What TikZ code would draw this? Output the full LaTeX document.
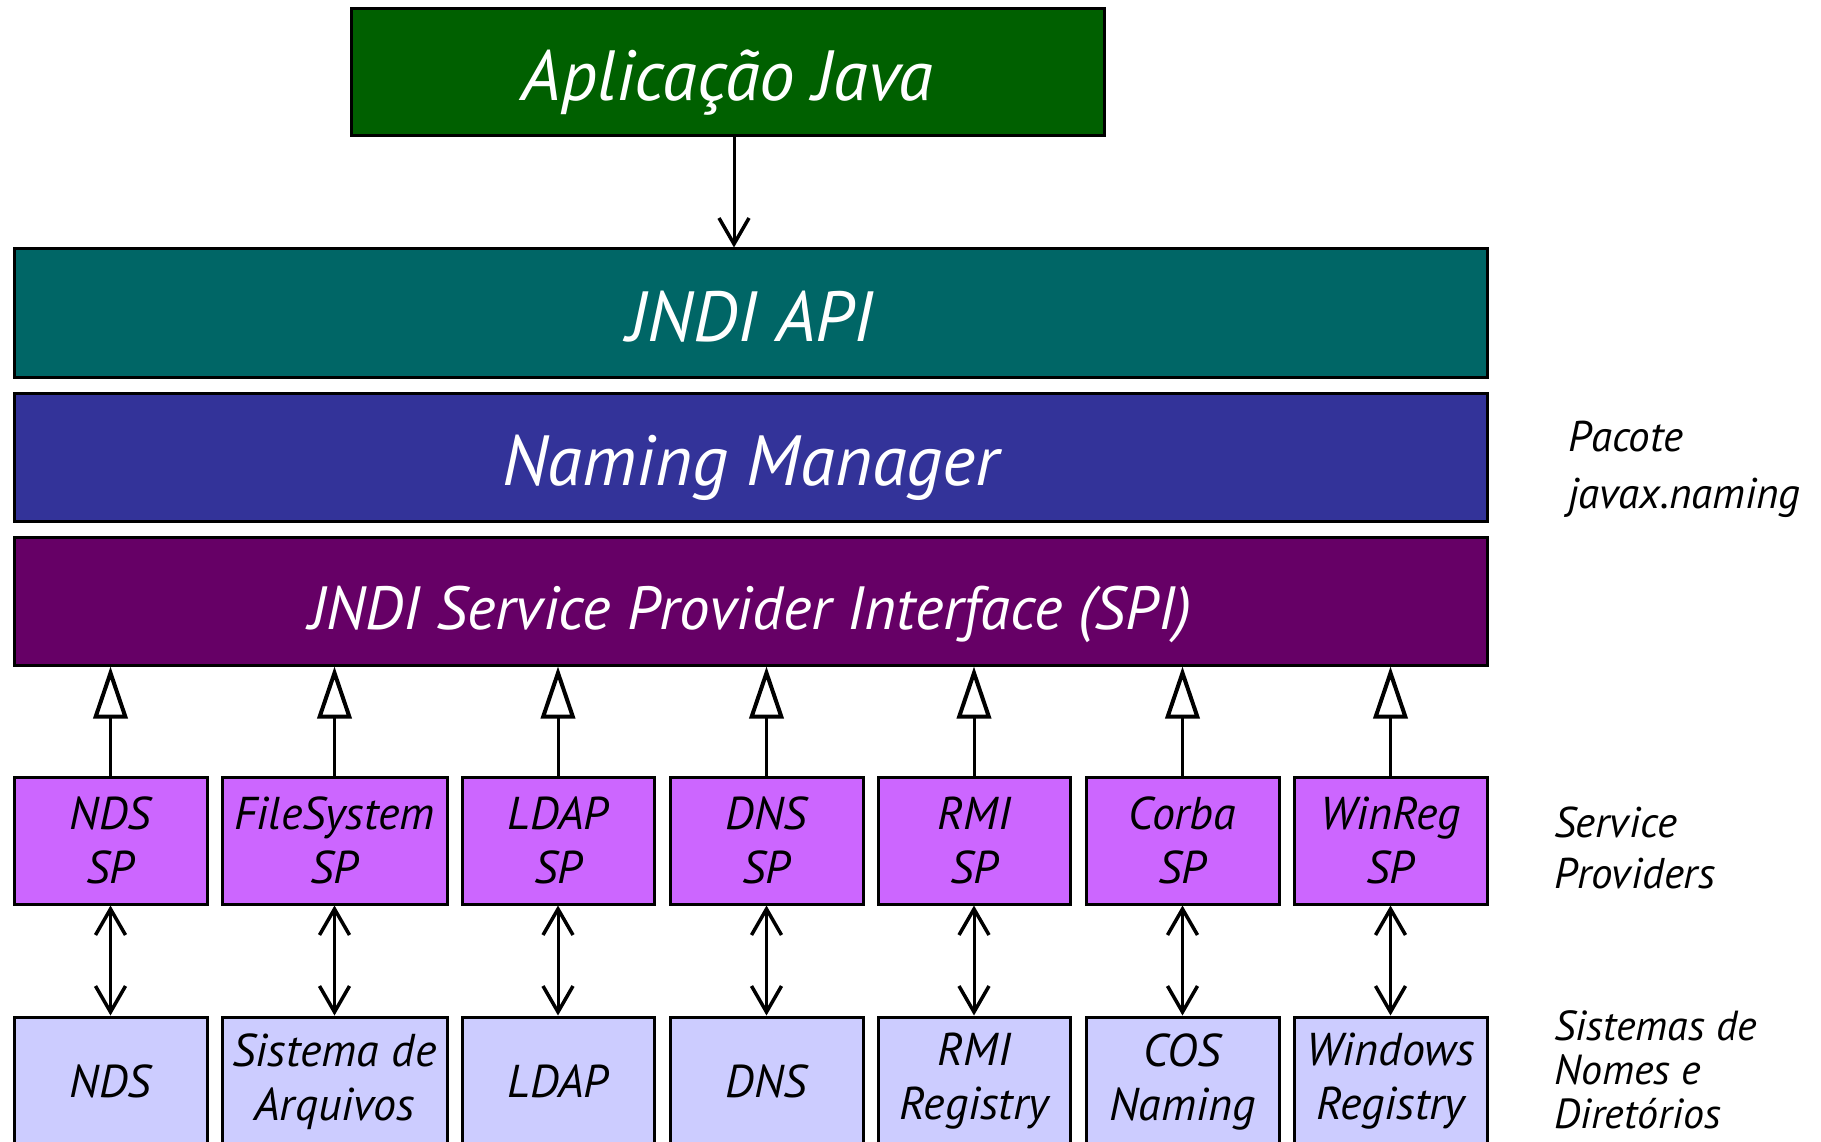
\documentclass[tikz,border=0pt]{standalone}
\usepackage{fontspec}
\setmainfont{PT Sans}
\usetikzlibrary{arrows.meta}
\definecolor{cgreen}{RGB}{0,96,0}
\definecolor{cteal}{RGB}{0,102,102}
\definecolor{cblue}{RGB}{51,51,153}
\definecolor{cpurple}{RGB}{102,0,102}
\definecolor{csp}{RGB}{204,102,255}
\definecolor{csys}{RGB}{204,204,255}
\tikzset{
  layer/.style={draw=black, line width=3pt, rectangle, inner sep=0pt, text=white,
    text height=56pt, text depth=0pt,
    font=\itshape\fontsize{71}{80}\selectfont},
  spbox/.style={draw=black, line width=3pt, rectangle, inner sep=0pt, fill=csp,
    minimum height=127pt, align=center, font=\itshape\fontsize{46}{54}\selectfont},
  sysbox/.style={draw=black, line width=3pt, rectangle, inner sep=0pt, fill=csys,
    minimum height=129pt, align=center, font=\itshape\fontsize{46}{54}\selectfont},
  lbl/.style={anchor=base west, inner sep=0pt, align=left, font=\itshape\fontsize{43}{57}\selectfont},
  conn/.style={line width=3pt},
  barb/.tip={Straight Barb[length=26pt,width=30pt,line width=3.5pt]},
  tri/.tip={Triangle[open,fill=white,length=52pt,width=34pt,line width=4pt]},
}
\begin{document}
\begin{tikzpicture}[x=1pt,y=-1pt]
\useasboundingbox (0,0) rectangle (1821,1142);
% layers
\node[layer, fill=cgreen, minimum width=753pt, minimum height=127pt] (app) at (727.5,72.5) {Aplicação Java};
\node[layer, fill=cteal, minimum width=1473pt, minimum height=128pt] (api) at (750.5,313) {JNDI API};
\node[layer, fill=cblue, minimum width=1473pt, minimum height=128pt] (nm) at (750.5,457) {Naming Manager};
\node[layer, fill=cpurple, minimum width=1473pt, minimum height=128pt,
  font=\itshape\fontsize{61}{70}\selectfont] (spi) at (750.5,601) {JNDI Service Provider Interface (SPI)};
% service providers
\node[spbox, minimum width=193pt] (sp1) at (110.5,840.5) {NDS\\SP};
\node[spbox, minimum width=225pt] (sp2) at (334.5,840.5) {FileSystem\\SP};
\node[spbox, minimum width=192pt] (sp3) at (558,840.5) {LDAP\\SP};
\node[spbox, minimum width=193pt] (sp4) at (766.5,840.5) {DNS\\SP};
\node[spbox, minimum width=192pt] (sp5) at (974,840.5) {RMI\\SP};
\node[spbox, minimum width=193pt] (sp6) at (1182.5,840.5) {Corba\\SP};
\node[spbox, minimum width=193pt] (sp7) at (1390.5,840.5) {WinReg\\SP};
% naming systems
\node[sysbox, minimum width=193pt] (ns1) at (110.5,1081.5) {NDS};
\node[sysbox, minimum width=225pt] (ns2) at (334.5,1081.5) {Sistema de\\Arquivos};
\node[sysbox, minimum width=192pt] (ns3) at (558,1081.5) {LDAP};
\node[sysbox, minimum width=193pt] (ns4) at (766.5,1081.5) {DNS};
\node[sysbox, minimum width=192pt] (ns5) at (974,1081.5) {RMI\\Registry};
\node[sysbox, minimum width=193pt] (ns6) at (1182.5,1081.5) {COS\\Naming};
\node[sysbox, minimum width=193pt] (ns7) at (1390.5,1081.5) {Windows\\Registry};
% connectors
\draw[conn, -barb] ([xshift=6.5pt]app.south) -- ([xshift=6.5pt]app.south |- api.north);
\foreach \i in {1,...,7} {
  \draw[conn, -tri] (sp\i.north) -- (sp\i.north |- spi.south);
  \draw[conn, barb-barb] (sp\i.south) -- (ns\i.north);
}
% side labels (base anchor = baseline of last line)
\node[lbl] (pac) at (1568,508) {Pacote\\javax.naming};
\node[lbl, font=\itshape\fontsize{43}{51}\selectfont] (svc) at (1554,888) {Service\\Providers};
\node[lbl, font=\itshape\fontsize{42}{44}\selectfont] (sis) at (1554,1128) {Sistemas de\\Nomes e\\Diretórios};
\end{tikzpicture}
\end{document}
